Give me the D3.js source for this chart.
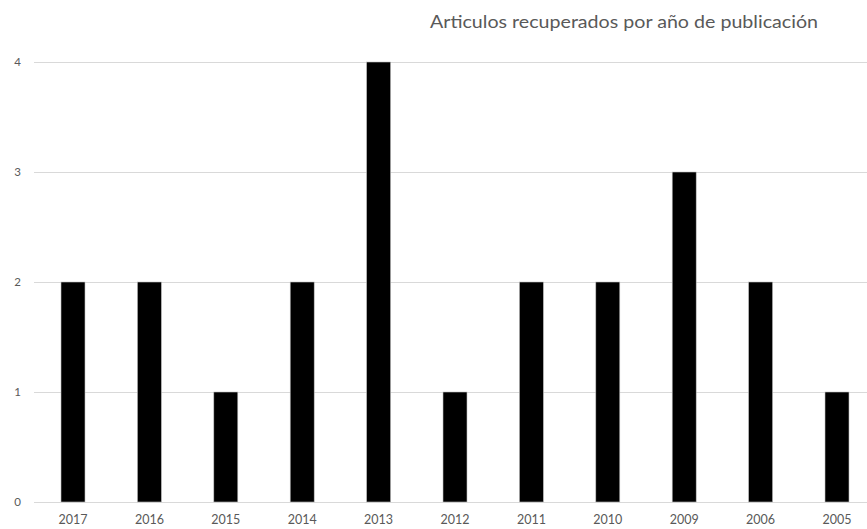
<!DOCTYPE html>
<html>
<head>
<meta charset="utf-8">
<script src="https://cdn.jsdelivr.net/npm/d3@7"></script>
<style>
  html, body { margin: 0; padding: 0; background: #fff; }
  svg { display: block; }
  text { font-family: Lato, "Open Sans", sans-serif; fill: #595959; }
</style>
</head>
<body>
<svg id="chart" width="867" height="529"></svg>
<script>
const years = ["2017", "2016", "2015", "2014", "2013", "2012", "2011", "2010", "2009", "2006", "2005"];
const counts = [2, 2, 1, 2, 4, 1, 2, 2, 3, 2, 1];
const yTicks = [0, 1, 2, 3, 4];
const title = "Articulos recuperados por año de publicación";

const svg = d3.select("#chart");
const W = 867, H = 529;

// band step ~76.4px with 24px wide bars; the last band runs past the right edge
const barFrac = 24 / 76.4;
const x = d3.scaleBand()
  .domain(years)
  .range([34.8, 875.2])
  .paddingInner(1 - barFrac)
  .paddingOuter((1 - barFrac) / 2);

const y = d3.scaleLinear().domain([0, 4]).range([502, 62]);

// gridlines
svg.append("g")
  .selectAll("line")
  .data(yTicks)
  .join("line")
  .attr("x1", 34).attr("x2", W)
  .attr("y1", d => Math.round(y(d)) + 0.5)
  .attr("y2", d => Math.round(y(d)) + 0.5)
  .attr("stroke", "#d9d9d9")
  .attr("stroke-width", 1);

// y tick labels
svg.append("g")
  .selectAll("text")
  .data(yTicks)
  .join("text")
  .attr("x", 21)
  .attr("y", d => y(d))
  .attr("dy", "0.35em")
  .attr("text-anchor", "end")
  .attr("font-size", 11.5)
  .text(d => d);

// bars
svg.append("g")
  .selectAll("rect")
  .data(years.map((yr, i) => ({ yr, v: counts[i] })))
  .join("rect")
  .attr("x", d => x(d.yr))
  .attr("width", x.bandwidth())
  .attr("y", d => y(d.v))
  .attr("height", d => y(0) - y(d.v))
  .attr("fill", "#000")
  .attr("stroke", "#bfbfbf")
  .attr("stroke-width", 0.6);

// x labels
svg.append("g")
  .selectAll("text")
  .data(years)
  .join("text")
  .attr("x", d => x(d) + x.bandwidth() / 2)
  .attr("y", 520)
  .attr("dy", "0.35em")
  .attr("text-anchor", "middle")
  .attr("font-size", 12.5)
  .text(d => d);

// title
svg.append("text")
  .attr("x", 624)
  .attr("y", 22)
  .attr("dy", "0.35em")
  .attr("text-anchor", "middle")
  .attr("font-size", 17)
  .attr("textLength", 388)
  .attr("lengthAdjust", "spacingAndGlyphs")
  .text(title);
</script>
</body>
</html>
